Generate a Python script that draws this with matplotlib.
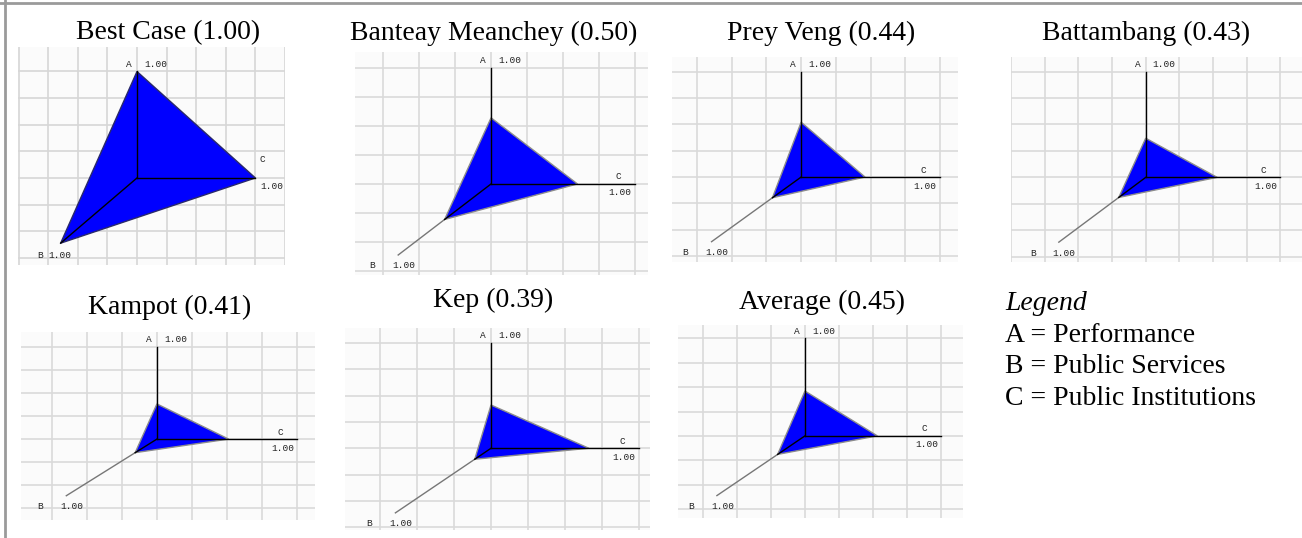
import matplotlib.pyplot as plt
from matplotlib.lines import Line2D

# scores (fraction of the 1.00 axis length)
titles = ["Best Case (1.00)", "Banteay Meanchey (0.50)", "Prey Veng (0.44)",
          "Battambang (0.43)", "Kampot (0.41)", "Kep (0.39)", "Average (0.45)"]
performance = [1.00, 0.57, 0.52, 0.37, 0.38, 0.41, 0.46]
public_services = [1.00, 0.50, 0.32, 0.31, 0.24, 0.17, 0.31]
public_institutions = [1.00, 0.60, 0.46, 0.53, 0.51, 0.66, 0.53]
legend_lines = ["A = Performance", "B = Public Services", "C = Public Institutions"]

W, H = 1302, 538
fig = plt.figure(figsize=(W / 100, H / 100), dpi=100)

# panel boxes in pixels (x0, y0, x1, y1) and the grid-unit limits of each
boxes = [(18, 47, 285, 265), (355, 52, 648, 275), (672, 57, 958, 262),
         (1011, 57, 1302, 262), (21, 332, 315, 520), (345, 328, 650, 530),
         (678, 325, 963, 518)]
xlims = [(-4.02, 5.0), (-3.78, 4.36), (-3.72, 4.52), (-4.0, 4.64),
         (-3.87, 4.5), (-3.94, 4.29), (-3.72, 4.63)]
ylims = [(-3.27, 4.92), (-3.14, 4.55), (-3.22, 4.55), (-3.2, 4.55),
         (-3.5, 4.63), (-3.1, 4.56), (-3.37, 4.55)]
title_pos = [(168, 33), (494, 33), (821, 33), (1146, 33),
             (170, 307), (493, 300), (822, 302)]

AX_LEN = 4.0
B_DIR = (-2.58 / 4.0, -2.45 / 4.0)
small = dict(family="Liberation Mono", fontsize=6.8, color="#222222")

for i in range(len(titles)):
    x0, y0, x1, y1 = boxes[i]
    ax = fig.add_axes([x0 / W, 1 - y1 / H, (x1 - x0) / W, (y1 - y0) / H])
    ax.set_xlim(*xlims[i])
    ax.set_ylim(*ylims[i])
    ax.set_facecolor("#fbfbfb")
    for s in ax.spines.values():
        s.set_visible(False)
    ax.set_xticks([])
    ax.set_yticks([])
    gc = "#dadada" if i else "#d6d6d6"
    for k in range(-5, 6):
        ax.axvline(k, color=gc, lw=1.2, zorder=0)
        ax.axhline(k, color=gc, lw=1.2, zorder=0)

    a, b, c = performance[i], public_services[i], public_institutions[i]
    pa = (0, AX_LEN * a)
    pc = (AX_LEN * c, 0)
    pb = (AX_LEN * B_DIR[0] * b, AX_LEN * B_DIR[1] * b)
    bend = (AX_LEN * B_DIR[0], AX_LEN * B_DIR[1])
    ax.fill([pa[0], pc[0], pb[0]], [pa[1], pc[1], pb[1]], color="#0000ff",
            ec="#8c8c8c" if i else "#2a2a6a", lw=1.0, zorder=2)
    # axes
    ax.plot([0, 0], [0, AX_LEN], color="black", lw=1.0, zorder=3)
    ax.plot([0, AX_LEN], [0, 0], color="black", lw=1.0, zorder=3)
    ax.plot([pb[0], bend[0]], [pb[1], bend[1]], color="#777777", lw=1.0, zorder=3)
    ax.plot([0, pb[0]], [0, pb[1]], color="black", lw=1.0, zorder=3)

    # axis end labels
    ax.annotate("A", (0, AX_LEN), xytext=(-8, 7), textcoords="offset pixels",
                ha="center", va="center", zorder=5, **small)
    ax.annotate("1.00", (0, AX_LEN), xytext=(7, 7), textcoords="offset pixels",
                ha="left", va="center", zorder=5, **small)
    if i == 0:
        c_lab, c_val = (7, 18), (16, -9)
        b_lab, b_val = (-21, -12), (-12, -12)
    else:
        c_lab, c_val = (-17, 7), (-15, -9)
        b_lab, b_val = (-26, -11), (-6, -11)
    ax.annotate("C", (AX_LEN, 0), xytext=c_lab, textcoords="offset pixels",
                ha="center", va="center", zorder=5, **small)
    ax.annotate("1.00", (AX_LEN, 0), xytext=c_val, textcoords="offset pixels",
                ha="center", va="center", zorder=5, **small)
    ax.annotate("B", bend, xytext=b_lab, textcoords="offset pixels",
                ha="center", va="center", zorder=5, **small)
    ax.annotate("1.00", bend, xytext=b_val, textcoords="offset pixels",
                ha="left", va="center", zorder=5, **small)

    tx, ty = title_pos[i]
    fig.text(tx / W, 1 - ty / H, titles[i], ha="center", va="center",
             family="Liberation Serif", fontsize=20)

# legend block
fig.text(1005 / W, 1 - 303 / H, "Legend", ha="left", va="center",
         family="Liberation Serif", fontsize=20, style="italic")
for j, line in enumerate(legend_lines):
    fig.text(1005 / W, 1 - (335 + 31.7 * j) / H, line, ha="left", va="center",
             family="Liberation Serif", fontsize=20)

# frame on the top and left edge
fig.add_artist(Line2D([0, 1], [1 - 2.5 / H, 1 - 2.5 / H], color="#9a9a9a", lw=2))
fig.add_artist(Line2D([4.5 / W, 4.5 / W], [0, 1], color="#9a9a9a", lw=2))

fig.savefig("out.png", dpi=100, facecolor="white")
